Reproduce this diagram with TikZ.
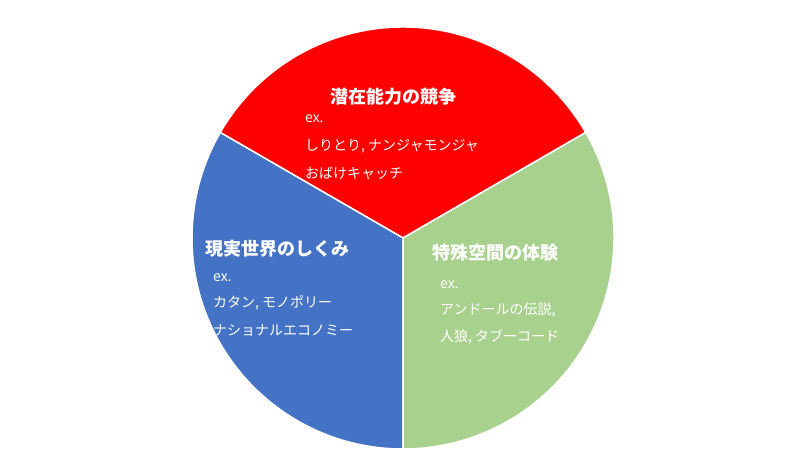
\documentclass[tikz,border=0pt]{standalone}
\usepackage{fontspec}
\setmainfont{Noto Sans CJK JP}
\begin{document}
\begin{tikzpicture}[x=1pt,y=-1pt,
  ttl/.style={text=white,font=\fontsize{18}{20}\selectfont\bfseries,anchor=west,inner sep=0},
  sub/.style={text=white,font=\fontsize{14}{16}\selectfont,anchor=west,inner sep=0}]
\useasboundingbox (0,0) rectangle (800,476);
\fill[white] (0,0) rectangle (800,476);
\coordinate (c) at (403,238);
\fill[red,draw=white,line width=1.5pt] (c) -- ++(210:211) arc[start angle=210,end angle=330,radius=211] -- cycle;
\fill[fill={rgb,255:red,68;green,114;blue,196},draw=white,line width=1.5pt] (c) -- ++(90:211) arc[start angle=90,end angle=210,radius=211] -- cycle;
\fill[fill={rgb,255:red,169;green,209;blue,142},draw=white,line width=1.5pt] (c) -- ++(-30:211) arc[start angle=-30,end angle=90,radius=211] -- cycle;
\node[ttl] (t1) at (330,97) {潜在能力の競争};
\node[sub] (a1) at (305,119) {ex.};
\node[sub] (a2) at (305,146) {しりとり, ナンジャモンジャ};
\node[sub] (a3) at (305,173) {おばけキャッチ};
\node[ttl] (t2) at (205,249) {現実世界のしくみ};
\node[sub] (b1) at (213,278) {ex.};
\node[sub] (b2) at (213,303) {カタン, モノポリー};
\node[sub] (b3) at (213,330) {ナショナルエコノミー};
\node[ttl] (t3) at (432,253) {特殊空間の体験};
\node[sub] (g1) at (440,285) {ex.};
\node[sub] (g2) at (440,310) {アンドールの伝説,};
\node[sub] (g3) at (440,337) {人狼, タブーコード};
\end{tikzpicture}
\end{document}
